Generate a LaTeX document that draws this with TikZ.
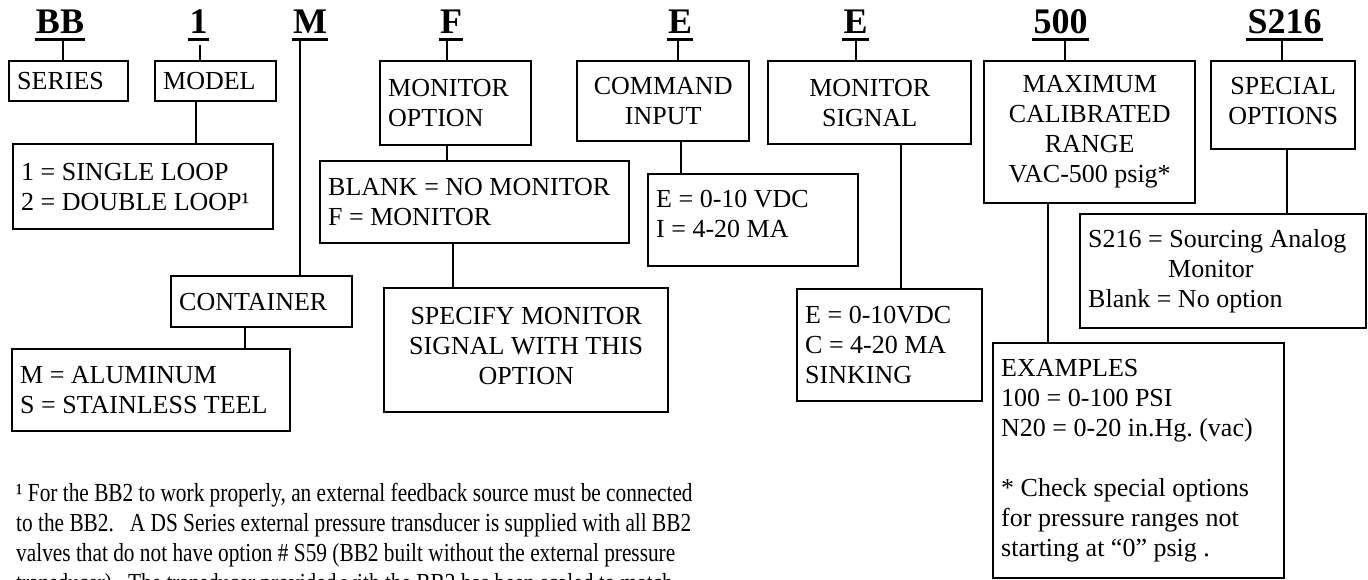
\documentclass[tikz,border=0pt]{standalone}
\usepackage{fontspec}
\setmainfont{Liberation Serif}
\usetikzlibrary{positioning,calc}

\begin{document}
\begin{tikzpicture}[x=0.5pt,y=-0.5pt,
	font=\fontsize{13pt}{15pt}\selectfont\frenchspacing,
	line width=1.2pt,
	head/.style={font=\fontsize{18pt}{20pt}\selectfont\bfseries, inner sep=0pt, text depth=2.5pt, anchor=base},
	opt/.style={draw, anchor=north west, inner xsep=4pt, inner ysep=0pt, align=flush left},
	optc/.style={opt, align=flush center}]
	\useasboundingbox (0,0) rectangle (1368,579);
	\clip (0,0) rectangle (1368,579);

	% part number
	\node[head] (hBB) at (60,33) {BB};
	\node[head] (h1) at (198.5,33) {1};
	\node[head] (hM) at (310,33) {M};
	\node[head] (hF) at (451,33) {F};
	\node[head] (hEa) at (680,33) {E};
	\node[head] (hEb) at (855.5,33) {E};
	\node[head] (h500) at (1060.5,33) {500};
	\node[head] (hS) at (1284.5,33) {S216};
	\foreach \h in {hBB,h1,hM,hF,hEa,hEb,h500,hS}
		\draw[line width=1.3pt] (\h.south west) -- (\h.south east);

	% series, model, container
	\node[opt, minimum width=59.5pt, minimum height=20pt, text width=51.5pt] (series) at (8,60) {SERIES};
	\node[opt, minimum width=60.5pt, minimum height=20pt, text width=52.5pt] (model) at (154,60) {MODEL};
	\node[opt, minimum width=130pt, minimum height=42.5pt, text width=122pt] (loop) at (12,143) {1 = SINGLE LOOP\\2 = DOUBLE LOOP¹};
	\node[opt, minimum width=90.5pt, minimum height=25.5pt, text width=82.5pt] (cont) at (170,275) {CONTAINER};
	\node[opt, minimum width=139pt, minimum height=41pt, text width=131pt] (metal) at (11,348) {M = ALUMINUM\\S = STAINLESS TEEL};
	\draw (hBB.south -| 63,0) -- (series.north -| 63,0);
	\draw ([yshift=-3pt]h1.south -| 200,0) -- (model.north -| 200,0);
	\draw (model.south -| 196,0) -- (loop.north -| 196,0);
	\draw (hM.south -| 300,0) -- (cont.north -| 300,0);
	\draw (cont.south -| 245,0) -- (metal.north -| 245,0);

	% monitor option
	\node[opt, minimum width=75.5pt, minimum height=42pt, text width=67.5pt] (monopt) at (379,60) {MONITOR\\OPTION};
	\node[opt, minimum width=154.5pt, minimum height=41pt, text width=146.5pt] (blank) at (319,160) {BLANK = NO MONITOR\\F = MONITOR};
	\node[optc, minimum width=142pt, minimum height=62pt, text width=134pt, text depth=34pt] (spec) at (383,287) {SPECIFY MONITOR\\SIGNAL WITH THIS\\OPTION};
	\draw (hF.south -| 447,0) -- (monopt.north -| 447,0);
	\draw (monopt.south -| 447,0) -- (blank.north -| 447,0);
	\draw (blank.south -| 453,0) -- (spec.north -| 453,0);

	% command input
	\node[optc, minimum width=86pt, minimum height=40pt, text width=78pt] (cmd) at (576,60) {COMMAND\\INPUT};
	\node[opt, minimum width=105pt, minimum height=46pt, text width=97pt, text depth=21pt] (cmdin) at (647,173) {E = 0-10 VDC\\I = 4-20 MA};
	\draw (hEa.south -| 678,0) -- (cmd.north -| 678,0);
	\draw (cmd.south -| 681,0) -- (cmdin.north -| 681,0);

	% monitor signal
	\node[optc, minimum width=101.5pt, minimum height=41.5pt, text width=93.5pt] (msig) at (767,60) {MONITOR\\SIGNAL};
	\node[opt, minimum width=92.5pt, minimum height=56pt, text width=84.5pt] (sink) at (796,288) {E = 0-10VDC\\C = 4-20 MA\\SINKING};
	\draw (hEb.south -| 856,0) -- (msig.north -| 856,0);
	\draw (msig.south -| 901,0) -- (sink.north -| 901,0);

	% range
	\node[optc, minimum width=105.5pt, minimum height=71pt, text width=97.5pt] (range) at (983,60) {MAXIMUM\\CALIBRATED\\RANGE\\VAC-500 psig*};
	\node[opt, minimum width=145.5pt, minimum height=117.5pt, text width=137.5pt] (examp) at (992,342) {EXAMPLES\\100 = 0-100 PSI\\N20 = 0-20 in.Hg. (vac)\\[15pt]{*} Check special options\\for pressure ranges not\\starting at “0” psig .};
	\draw (h500.south -| 1065,0) -- (range.north -| 1065,0);
	\draw (range.south -| 1048,0) -- (examp.north -| 1048,0);

	% special options
	\node[optc, minimum width=72pt, minimum height=44pt, text width=64pt, text depth=19pt] (special) at (1210,60) {SPECIAL\\OPTIONS};
	\node[opt, minimum width=143pt, minimum height=57pt, text width=135pt] (src) at (1079,213) {S216 = Sourcing Analog\\\hspace*{40pt}Monitor\\Blank = No option};
	\draw (hS.south -| 1282,0) -- (special.north -| 1282,0);
	\draw (special.south -| 1287,0) -- (src.north -| 1287,0);

	% footnote
	\node[anchor=base west, inner sep=0pt] (note) at (15,501) {\scalebox{0.82}[1]{\begin{tabular}[t]{@{}l@{}}
		¹ For the BB2 to work properly, an external feedback source must be connected\\
		to the BB2.\ \ \ A DS Series external pressure transducer is supplied with all BB2\\
		valves that do not have option \# S59 (BB2 built without the external pressure\\
		transducer).\ \ The transducer provided with the BB2 has been scaled to match
	\end{tabular}}};
\end{tikzpicture}
\end{document}
